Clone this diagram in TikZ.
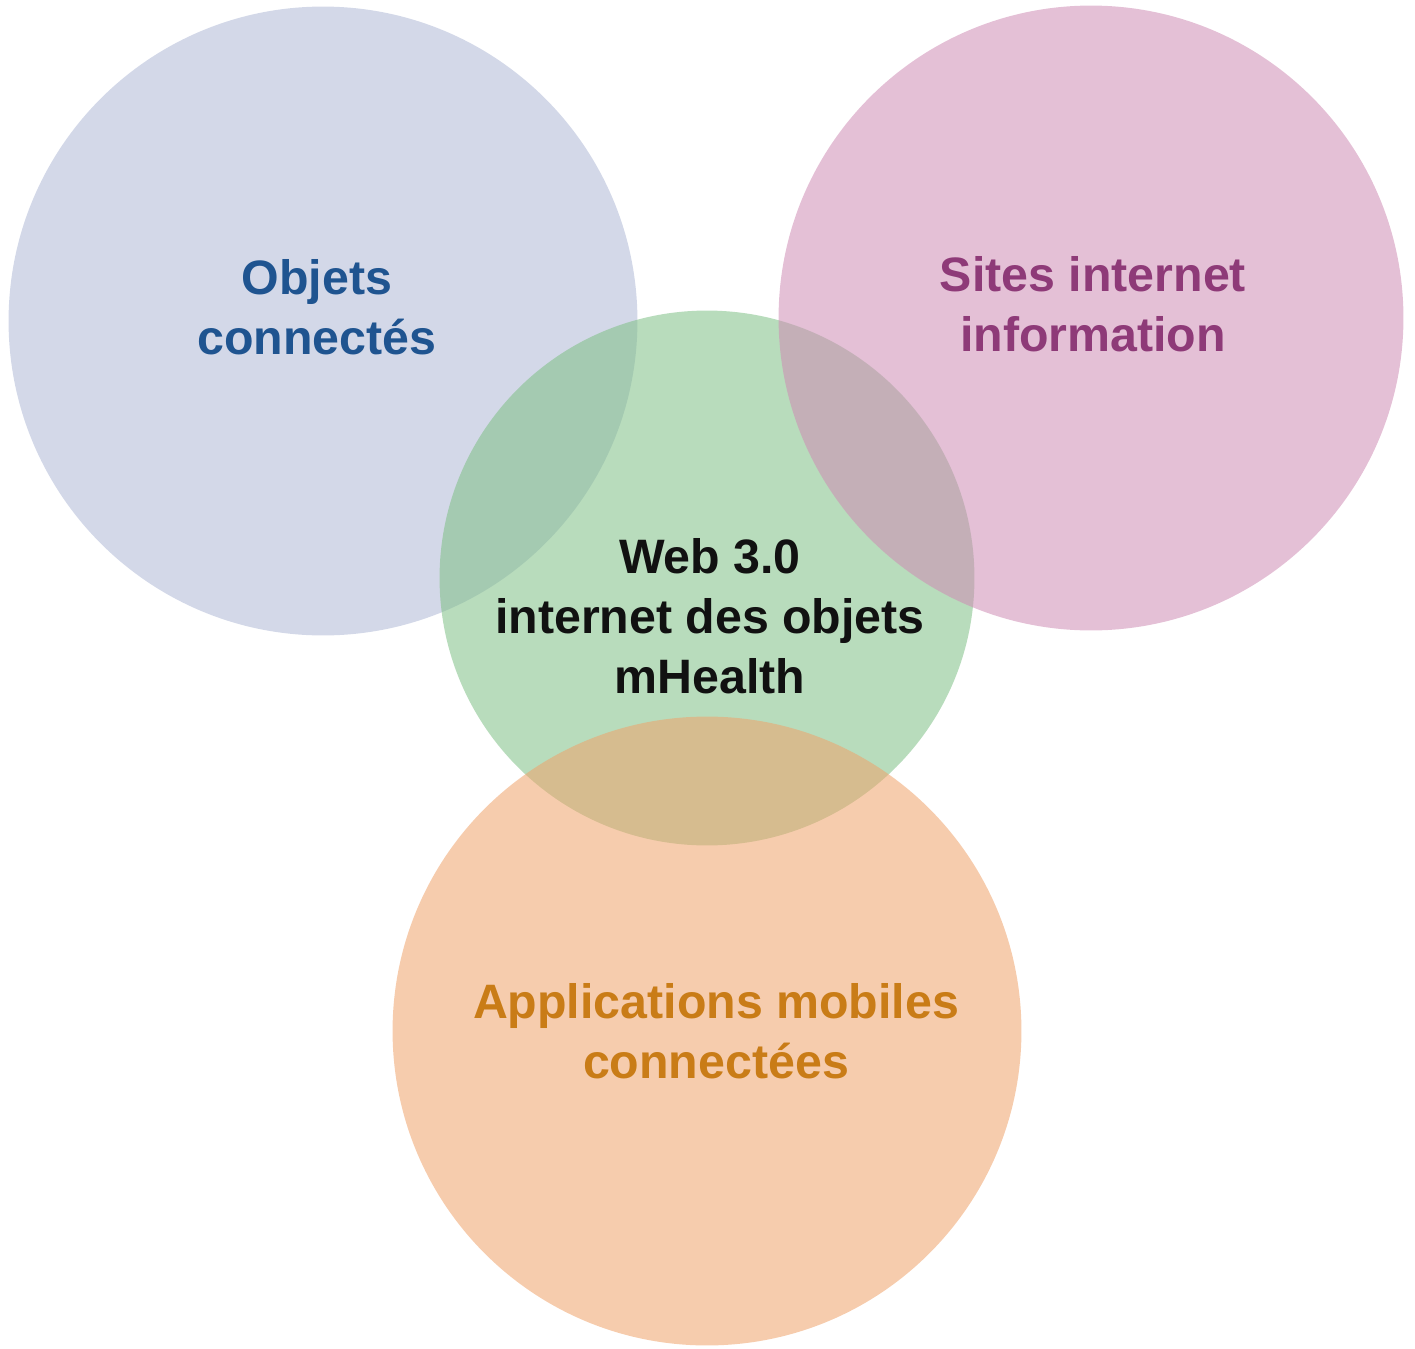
\documentclass[tikz,border=0pt]{standalone}
\usepackage{fontspec}
\setmainfont{Liberation Sans}
\usepackage{tikz}

\definecolor{objetsfill}{RGB}{175,184,213}
\definecolor{sitesfill}{RGB}{206,140,180}
\definecolor{webfill}{RGB}{126,191,133}
\definecolor{appsfill}{RGB}{239,162,106}
\definecolor{objetstext}{RGB}{31,84,144}
\definecolor{sitestext}{RGB}{142,58,120}
\definecolor{appstext}{RGB}{201,124,23}
\definecolor{webtext}{RGB}{17,17,17}

\tikzset{
  bulle/.style={circle, inner sep=0pt, fill opacity=0.55},
  label/.style={align=center, font=\fontsize{27.5}{34}\selectfont\bfseries}
}

\begin{document}
\begin{tikzpicture}[x=0.02cm, y=-0.02cm]
            \useasboundingbox (0,0) rectangle (1415,1348);
            \node[bulle, fill=objetsfill, minimum size=12.58cm] (objets) at (323,321) {};
            \node[bulle, fill=webfill, minimum size=10.7cm] (web) at (707,578) {};
            \node[bulle, fill=sitesfill, minimum size=12.5cm] (sites) at (1091,318) {};
            \node[bulle, fill=appsfill, minimum size=12.58cm] (apps) at (707,1031) {};
            \node[label, text=objetstext] (tobjets) at (317,307) {Objets\\connectés};
            \node[label, text=sitestext] (tsites) at (1093,304) {Sites internet\\information};
            \node[label, text=webtext] (tweb) at (710,616) {Web 3.0\\internet des objets\\mHealth};
            \node[label, text=appstext] (tapps) at (716,1031) {Applications mobiles\\connectées};
        \end{tikzpicture}
\end{document}
